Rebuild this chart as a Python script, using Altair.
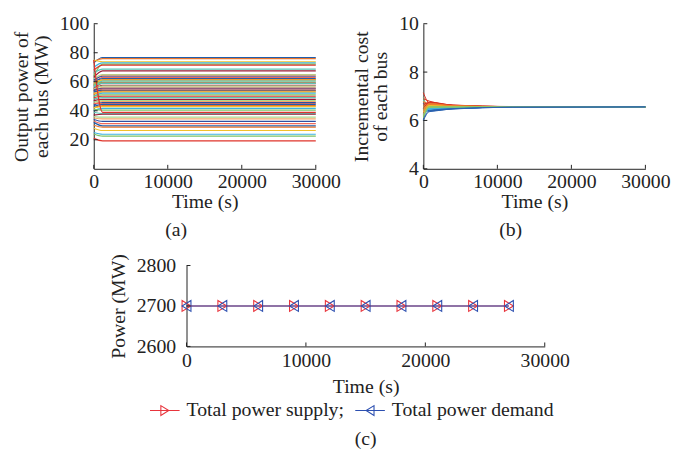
import altair as alt
import pandas as pd

FONT = "Liberation Serif"
INK = "#222222"

# ---------------- Panel (a): output power of each bus ----------------
a_times = [0, 1200, 30000]
a_final = [76.7, 76.0, 73.8, 73.0, 72.2, 71.5, 68.7, 67.5, 65.0, 64.5,
           63.8, 63.0, 62.2, 61.5, 61.1, 60.5, 59.8, 59.0, 58.9, 57.6,
           57.0, 56.2, 55.5, 54.9, 54.0, 53.6, 52.8, 52.2, 51.0, 50.0,
           49.0, 47.8, 47.0, 46.4, 45.6, 45.0, 44.4, 43.5, 42.9, 41.6,
           40.5, 38.9, 38.0, 37.6, 35.6, 34.4, 32.7, 31.1, 29.6, 28.7,
           26.4, 23.8, 22.5, 19.3]
a_init = [73.0, 74.0, 75.0, 70.0, 64.0, 68.0, 66.0, 63.0, 62.0, 60.0,
          61.0, 58.0, 60.0, 57.0, 59.0, 56.0, 58.0, 55.0, 57.0, 54.0,
          55.0, 53.0, 54.0, 52.0, 53.0, 51.0, 52.0, 50.0, 50.0, 49.0,
          48.0, 47.0, 46.0, 45.0, 44.0, 45.0, 43.0, 42.0, 42.0, 40.0,
          41.0, 75.0, 39.0, 37.0, 36.0, 35.0, 34.0, 33.0, 32.0, 30.0,
          28.0, 25.0, 24.0, 21.0]
a_yticks = [20, 40, 60, 80, 100]
x_ticks = [0, 10000, 20000, 30000]

PALETTE_A = ["#1f5fae", "#e8742c", "#f2c02a", "#3fb4e0", "#7cc467", "#e0352b",
             "#5cc3b4", "#9b1c36", "#a9d98f", "#f5a86a", "#2f4fa0", "#f06a5a"]

rows_a = []
for i, (s, f) in enumerate(zip(a_init, a_final)):
    for t, v in zip(a_times, [s, f, f]):
        rows_a.append({"bus": i, "t": t, "p": v, "hex": PALETTE_A[i % len(PALETTE_A)]})
df_a = pd.DataFrame(rows_a)

# ---------------- Panel (b): incremental cost ----------------
b_times = [0, 800, 4000, 12000, 30000]
b0 = [7.15, 6.95, 6.9, 6.85, 6.8, 6.78, 6.72, 6.7, 6.65, 6.62, 6.6, 6.58, 6.55, 6.52, 6.5,
      6.48, 6.45, 6.42, 6.4, 6.38, 6.35, 6.3, 6.28, 6.25, 6.2, 6.18, 6.15, 6.1, 6.05, 6.0]
b1 = [6.72, 6.5, 6.8, 6.45, 6.66, 6.58, 6.7, 6.4, 6.62, 6.76, 6.52, 6.68, 6.44, 6.6, 6.74,
      6.38, 6.64, 6.56, 6.7, 6.48, 6.62, 6.42, 6.66, 6.5, 6.6, 6.46, 6.58, 6.54, 6.4, 6.36]
b2 = [6.62, 6.54, 6.64, 6.5, 6.6, 6.57, 6.61, 6.49, 6.59, 6.63, 6.55, 6.6, 6.5, 6.58, 6.62,
      6.48, 6.59, 6.56, 6.61, 6.52, 6.58, 6.5, 6.6, 6.53, 6.57, 6.51, 6.57, 6.55, 6.49, 6.47]
b3 = [6.57, 6.555, 6.575, 6.55, 6.565, 6.56, 6.57, 6.55, 6.565, 6.57, 6.555, 6.565, 6.55, 6.56, 6.57,
      6.545, 6.565, 6.56, 6.57, 6.555, 6.56, 6.55, 6.565, 6.555, 6.56, 6.55, 6.56, 6.555, 6.55, 6.545]
b4 = [6.56] * 30
b_yticks = [4, 6, 8, 10]

PALETTE_B = ["#d7301f", "#ee7d2c", "#f2c02a", "#8cc665", "#3fb4e0", "#2a62b0"]
order_b = sorted(range(len(b2)), key=lambda k: -b2[k])
rank_b = {k: r for r, k in enumerate(order_b)}
rows_b = []
for i in range(len(b0)):
    hexcol = PALETTE_B[min(5, rank_b[i] * 6 // len(b0))]
    for t, v in zip(b_times, [b0[i], b1[i], b2[i], b3[i], b4[i]]):
        rows_b.append({"bus": i, "t": t, "p": v, "hex": hexcol})
df_b = pd.DataFrame(rows_b)

# ---------------- Panel (c): total power ----------------
c_times = [0, 3000, 6000, 9000, 12000, 15000, 18000, 21000, 24000, 27000]
c_supply = [2700] * 10
c_demand = [2700] * 10
c_series = ["Total power supply;", "Total power demand"]
c_yticks = [2600, 2700, 2800]
df_sup = pd.DataFrame({"t": c_times, "p": c_supply, "s": c_series[0]})
df_dem = pd.DataFrame({"t": c_times, "p": c_demand, "s": c_series[1]})
df_leg = pd.DataFrame({"t": [None, None], "p": [None, None], "s": c_series})
RED, BLUE = "#e8343c", "#2c4fb0"

# sizes
WA, HA = 225, 147
WC, HC = 363, 82


def make_x(label_pad=3, title_pad=0):
    return alt.X("t:Q", scale=alt.Scale(domain=[0, 30000]),
                 axis=alt.Axis(values=x_ticks, title="Time (s)", format="d",
                               labelPadding=label_pad, titlePadding=title_pad, labelFlush=False))


def make_y(ydom, yvals, title, label_pad=5):
    return alt.Y("p:Q", scale=alt.Scale(domain=ydom),
                 axis=alt.Axis(values=yvals, title=title, format="d",
                               labelPadding=label_pad, titlePadding=8))


def tick_layers(xenc, yenc, yvals, h):
    xt = alt.Chart(pd.DataFrame({"t": x_ticks})).mark_rule(color=INK, strokeWidth=1).encode(
        x=xenc, y=alt.value(h), y2=alt.value(h - 4))
    yt = alt.Chart(pd.DataFrame({"p": yvals})).mark_rule(color=INK, strokeWidth=1).encode(
        y=yenc, x=alt.value(0), x2=alt.value(4))
    return xt, yt


def sub_title(txt, frame, offset):
    return alt.TitleParams(txt, orient="bottom", frame=frame, anchor="middle",
                           font=FONT, fontSize=20, fontWeight="normal", color=INK, offset=offset)


# Panel (a)
xenc_a = make_x()
yenc_a = make_y([0, 100], a_yticks, ["Output power of", "each bus (MW)"])
lines_a = alt.Chart(df_a).mark_line(strokeWidth=1.2, interpolate="monotone").encode(
    x=xenc_a, y=yenc_a, color=alt.Color("hex:N", scale=None), detail="bus:N")
xa, ya = tick_layers(xenc_a, yenc_a, a_yticks, HA)
chart_a = alt.layer(lines_a, xa, ya).properties(width=WA, height=HA,
                                                title=sub_title("(a)", "bounds", 9))

# Panel (b)
xenc_b = make_x()
yenc_b = make_y([4, 10], b_yticks, ["Incremental cost", "of each bus"])
lines_b = alt.Chart(df_b).mark_line(strokeWidth=1.0, interpolate="monotone").encode(
    x=xenc_b, y=yenc_b, color=alt.Color("hex:N", scale=None), detail="bus:N")
xb, yb = tick_layers(xenc_b, yenc_b, b_yticks, HA)
chart_b = alt.layer(lines_b, xb, yb).properties(width=WA, height=HA,
                                                title=sub_title("(b)", "bounds", 9))

# Panel (c)
xenc_c = make_x(label_pad=4, title_pad=7)
yenc_c = make_y([2600, 2800], c_yticks, "Power (MW)", label_pad=11)
leg = alt.Legend(title=None, orient="none", legendX=62, legendY=382, direction="horizontal",
                 symbolSize=100, symbolStrokeWidth=1.1, labelOffset=12, padding=0,
                 columnPadding=8, labelFont=FONT, labelFontSize=20,
                 labelColor=INK, labelLimit=400)


def col_enc():
    return alt.Color("s:N", scale=alt.Scale(domain=c_series), legend=leg)


TRI_R = "M-0.9,-1.1L0.9,0L-0.9,1.1Z"
TRI_L = "M0.9,-1.1L-0.9,0L0.9,1.1Z"
LEG_R = "M-3,0H3M-0.8,-1L0.8,0L-0.8,1Z"
LEG_L = "M-3,0H3M0.8,-1L-0.8,0L0.8,1Z"

line_sup = alt.Chart(df_sup).mark_line(strokeWidth=1.2).encode(x=xenc_c, y=yenc_c, color=col_enc())
line_dem = alt.Chart(df_dem).mark_line(strokeWidth=1.2).encode(x=xenc_c, y=yenc_c, color=col_enc())
pt_sup = alt.Chart(df_sup).mark_point(shape=TRI_R, filled=False, size=100, strokeWidth=1.1,
                                      opacity=1).encode(x=xenc_c, y=yenc_c, color=col_enc())
pt_dem = alt.Chart(df_dem).mark_point(shape=TRI_L, filled=False, size=100, strokeWidth=1.1,
                                      opacity=1).encode(x=xenc_c, y=yenc_c, color=col_enc())
legend_layer = alt.Chart(df_leg).mark_point(filled=False, opacity=1, size=100, strokeWidth=1.1).encode(
    x=xenc_c, y=yenc_c, color=col_enc(),
    shape=alt.Shape("s:N", scale=alt.Scale(domain=c_series, range=[LEG_R, LEG_L]), legend=leg),
)
xc, yc = tick_layers(xenc_c, yenc_c, c_yticks, HC)
chart_c = alt.layer(legend_layer, line_sup, line_dem, pt_sup, pt_dem, xc, yc).properties(
    width=WC, height=HC, title=sub_title("(c)", "group", 33))

spacer = alt.Chart(pd.DataFrame({"z": [0]})).mark_point(opacity=0).encode(
    x=alt.value(0), y=alt.value(0)).properties(width=4, height=HC)

top = alt.hconcat(chart_a, chart_b, spacing=11)
bottom = alt.hconcat(spacer, chart_c, spacing=11)
chart = alt.vconcat(top, bottom, spacing=13).properties(
    padding={"left": 12, "top": 11, "right": 5, "bottom": 5},
    background="white",
).configure_view(stroke=None).configure_axis(
    labelFont=FONT, labelFontSize=20, titleFont=FONT, titleFontSize=20,
    titleFontWeight="normal", labelColor=INK, titleColor=INK, domainColor=INK,
    domainWidth=1, grid=False, ticks=False, tickSize=0, titleLineHeight=20
).configure_range(category=[RED, BLUE])

chart.save("out.html", embed_options={"renderer": "svg", "actions": False})
